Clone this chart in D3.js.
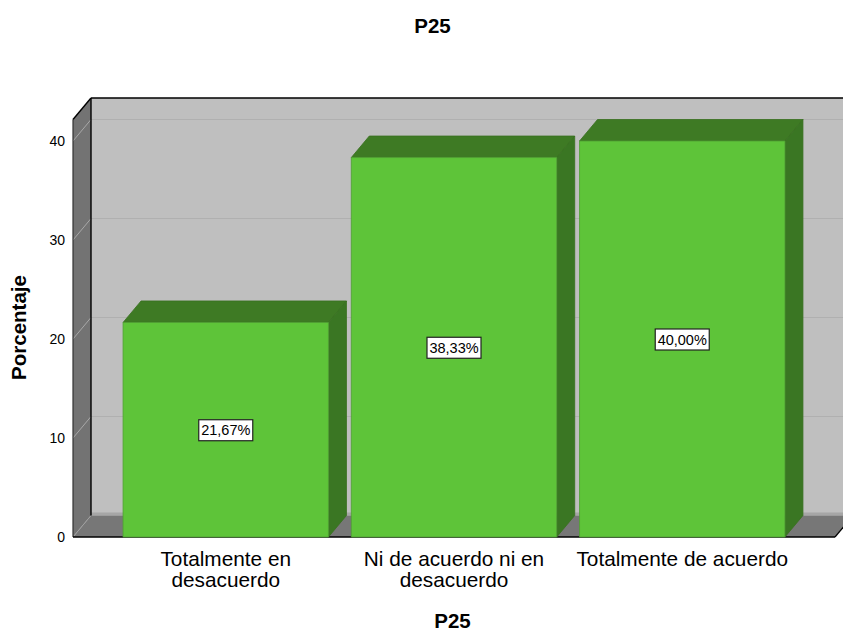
<!DOCTYPE html>
<html><head><meta charset="utf-8">
<script src="https://cdn.jsdelivr.net/npm/d3@7"></script>
<style>html,body{margin:0;padding:0;background:#fff}svg{display:block}text{font-family:"Liberation Sans",Arial,sans-serif;fill:#000}</style>
</head><body><div id="c"></div>
<script>
const categories = [["Totalmente en","desacuerdo"],["Ni de acuerdo ni en","desacuerdo"],["Totalmente de acuerdo"]];
const values = [21.67,38.33,40.00];
const valueLabels = ["21,67%","38,33%","40,00%"];
const yTicks = [0,10,20,30,40];
const titleText = "P25", xTitle = "P25", yTitle = "Porcentaje";

const W=843,H=631,dx=18,dy=21.5;
const svg=d3.select("#c").append("svg").attr("width",W).attr("height",H);
const y=d3.scaleLinear().domain([0,40]).range([537,141]);
const x=d3.scaleBand().domain(d3.range(3)).range([110.5,797.5]).paddingInner(0.1).paddingOuter(0.055);
const left=73,right=835,wallTop=98,floorY=y(0),backY=floorY-dy;
const poly=(pts,fill,stroke,sw)=>svg.append("polygon").attr("points",pts.map(p=>p.join(",")).join(" ")).attr("fill",fill).attr("stroke",stroke||"none").attr("stroke-width",sw||0);
const line=(x1,y1,x2,y2,c,w)=>svg.append("line").attr("x1",x1).attr("y1",y1).attr("x2",x2).attr("y2",y2).attr("stroke",c).attr("stroke-width",w||1);

// back wall
poly([[left+dx,wallTop],[W+1,wallTop],[W+1,backY],[left+dx,backY]],"#bfbfbf");
poly([[left+dx,backY-3],[W+1,backY-3],[W+1,backY],[left+dx,backY]],"#a6a6a6");
// left wall
poly([[left,wallTop+dy],[left+dx,wallTop],[left+dx,backY],[left,floorY]],"#737373");
// floor
poly([[left,floorY],[left+dx,backY],[right+dx,backY],[right,floorY]],"#777777");
// gridlines
yTicks.filter(t=>t>0).forEach(t=>{
  line(left+dx,y(t)-dy,W,y(t)-dy,"#b0b0b0",1);
  line(left,y(t),left+dx,y(t)-dy,"#a8a8a8",1);
});
line(left,floorY,left+dx,backY,"#a0a0a0",1);
// frame
line(left+dx,wallTop,W,wallTop,"#000",1.4);
line(left,wallTop+dy,left+dx,wallTop,"#000",1.4);
line(left,wallTop+dy,left,floorY,"#333",1.2);
line(left+dx,wallTop,left+dx,backY,"#000",1.4);
line(left,floorY,right,floorY,"#000",1.4);
line(right,floorY,right+dx,backY,"#000",1.2);

// bars
values.forEach((v,i)=>{
  const a=x(i),b=a+x.bandwidth(),t=y(v),f=y(0);
  poly([[a,t],[a+dx,t-dy],[b+dx,t-dy],[b,t]],"#3e7a24","#39701f",0.8);
  poly([[b,t],[b+dx,t-dy],[b+dx,f-dy],[b,f]],"#3a7623","#39701f",0.8);
  poly([[a,t],[b,t],[b,f],[a,f]],"#5ec439","#4f9e33",0.8);
});

// value labels
values.forEach((v,i)=>{
  const cx=x(i)+x.bandwidth()/2, cy=y(v/2);
  svg.append("rect").attr("x",cx-27).attr("y",cy-10).attr("width",54).attr("height",21).attr("fill","#fff").attr("stroke","#222").attr("stroke-width",1.2);
  svg.append("text").attr("x",cx).attr("y",cy+5.5).attr("text-anchor","middle").attr("font-size",14.5).text(valueLabels[i]);
});

// y axis
const ax=svg.append("g").attr("transform",`translate(${left},0)`).call(d3.axisLeft(y).tickValues(yTicks).tickSize(0).tickPadding(8));
ax.select(".domain").remove();
ax.selectAll("text").attr("font-size",14).style("font-family",'"Liberation Sans",Arial,sans-serif').attr("dy","0.3em");

// category labels
categories.forEach((lines,i)=>{
  const cx=x(i)+x.bandwidth()/2;
  lines.forEach((s,j)=>svg.append("text").attr("x",cx).attr("y",566+j*21).attr("text-anchor","middle").attr("font-size",20.8).text(s));
});

// titles
svg.append("text").attr("x",432.5).attr("y",33).attr("text-anchor","middle").attr("font-size",20.5).attr("font-weight","bold").text(titleText);
svg.append("text").attr("x",452.5).attr("y",628).attr("text-anchor","middle").attr("font-size",20.5).attr("font-weight","bold").text(xTitle);
svg.append("text").attr("transform","translate(26,327.5) rotate(-90)").attr("text-anchor","middle").attr("font-size",20.5).attr("font-weight","bold").text(yTitle);
</script></body></html>
